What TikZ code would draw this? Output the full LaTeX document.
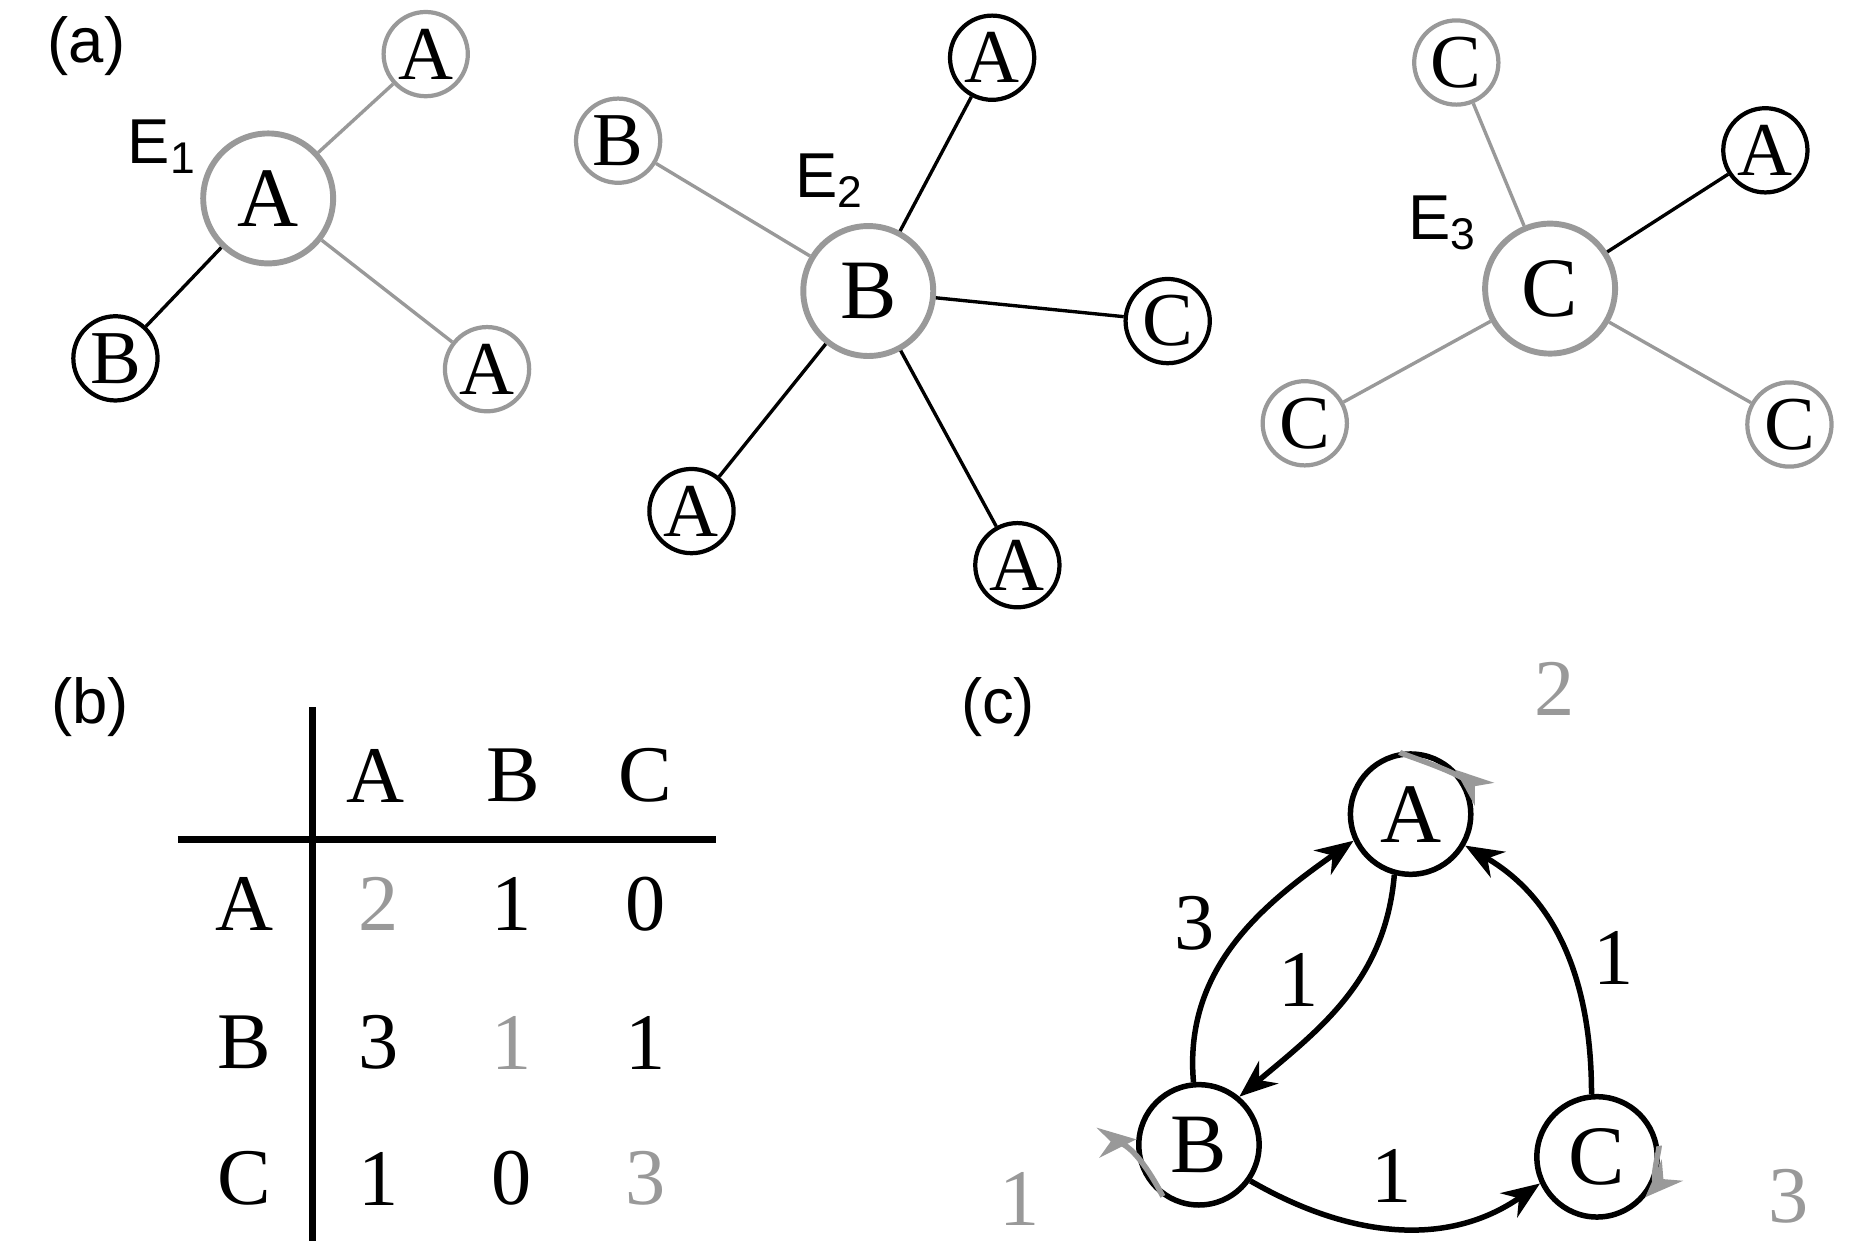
\documentclass[tikz,border=0pt]{standalone}
\usepackage{fontspec}
\setmainfont{Liberation Serif}
\newfontfamily\lab{Liberation Sans}
\usetikzlibrary{arrows.meta}
\definecolor{gr}{gray}{0.6}
\begin{document}
\begin{tikzpicture}[x=0.01cm,y=-0.01cm,
  sm/.style={circle,draw,line width=1pt,minimum size=70\pgflinewidth,inner sep=0pt,minimum size=0.7cm,font=\fontsize{18}{18}\selectfont},
  bg/.style={circle,draw=gr,line width=1.4pt,inner sep=0pt,minimum size=1.08cm,font=\fontsize{20}{20}\selectfont},
  g/.style={draw=gr},
  ed/.style={line width=0.8pt},
  pl/.style={font=\lab\fontsize{15}{15}\selectfont},
  tx/.style={font=\fontsize{19}{19}\selectfont},
  cn/.style={circle,draw,line width=1.3pt,inner sep=0pt,minimum size=1.0cm,font=\fontsize{20}{20}\selectfont},
  ar/.style={line width=1.3pt,-{Stealth[length=9pt,width=7pt]}},
  ga/.style={ar,draw=gr}]
\useasboundingbox (0,0) rectangle (1560,1040);
\node[pl] (la) at (72,38) {(a)};
\node[pl] (lb) at (75,588) {(b)};
\node[pl] (lc) at (830,588) {(c)};
% E1
\node[bg] (e1) at (223,165) {A};
\node[sm,g] (e1a) at (354,45) {A};
\node[sm] (e1b) at (96,298) {B};
\node[sm,g] (e1c) at (405,307) {A};
\draw[ed,gr] (e1)--(e1a); \draw[ed] (e1)--(e1b); \draw[ed,gr] (e1)--(e1c);
\node[pl] (E1) at (135,122) {E\textsubscript{1}};
% E2
\node[bg] (e2) at (722,242) {B};
\node[sm,g] (e2b) at (514,117) {B};
\node[sm] (e2a) at (825,48) {A};
\node[sm] (e2c) at (971,267) {C};
\node[sm] (e2d) at (575,425) {A};
\node[sm] (e2e) at (846,470) {A};
\draw[ed,gr] (e2)--(e2b);
\draw[ed] (e2)--(e2a); \draw[ed] (e2)--(e2c); \draw[ed] (e2)--(e2d); \draw[ed] (e2)--(e2e);
\node[pl] (E2) at (690,150) {E\textsubscript{2}};
% E3
\node[bg] (e3) at (1289,240) {C};
\node[sm,g] (e3c) at (1211,52) {C};
\node[sm] (e3a) at (1468,125) {A};
\node[sm,g] (e3d) at (1085,352) {C};
\node[sm,g] (e3e) at (1488,353) {C};
\draw[ed,gr] (e3)--(e3c); \draw[ed] (e3)--(e3a); \draw[ed,gr] (e3)--(e3d); \draw[ed,gr] (e3)--(e3e);
\node[pl] (E3) at (1200,185) {E\textsubscript{3}};
% table
\coordinate (v1) at (260,588); \coordinate (v2) at (260,1032);
\coordinate (h1) at (148,698); \coordinate (h2) at (595,698);
\draw[line width=1.6pt] (v1)--(v2); \draw[line width=1.6pt] (h1)--(h2);
\node[tx] (cA) at (312,645) {A}; \node[tx] (cB) at (427,645) {B}; \node[tx] (cC) at (537,645) {C};
\node[tx] (rA) at (203,752) {A}; \node[tx] (rB) at (203,867) {B}; \node[tx] (rC) at (203,980) {C};
\node[tx,gr] (aa) at (315,752) {2}; \node[tx] (ab) at (425,752) {1}; \node[tx] (ac) at (537,752) {0};
\node[tx] (ba) at (315,867) {3}; \node[tx,gr] (bb) at (425,867) {1}; \node[tx] (bc) at (537,867) {1};
\node[tx] (ca) at (315,980) {1}; \node[tx] (cb) at (425,980) {0}; \node[tx,gr] (cc) at (537,980) {3};
% graph c
\node[cn] (A) at (1173,677) {A};
\node[cn] (B) at (997,952) {B};
\node[cn] (C) at (1328,962) {C};
\draw[ar] (B.95) to[out=95,in=215] (A.205);
\draw[ar] (A.255) to[out=265,in=40] (B.50);
\draw[ar] (C.95) to[out=90,in=330] (A.330);
\draw[ar] (B.325) to[out=-30,in=215] (C.205);
\draw[ga] (A.100) .. controls +(95:1.3) and +(40:1.3) .. (A.45);
\draw[ga] (B.235) .. controls +(235:1.3) and +(175:1.3) .. (B.175);
\draw[ga] (C.10) .. controls +(10:1.3) and +(-45:1.3) .. (C.-40);
\node[tx] (l3) at (993,768) {3};
\node[tx] (l1a) at (1080,815) {1};
\node[tx] (l1b) at (1342,797) {1};
\node[tx] (l1c) at (1157,978) {1};
\node[tx,gr] (g2) at (1293,573) {2};
\node[tx,gr] (g1) at (848,997) {1};
\node[tx,gr] (g3) at (1487,995) {3};
\end{tikzpicture}
\end{document}
